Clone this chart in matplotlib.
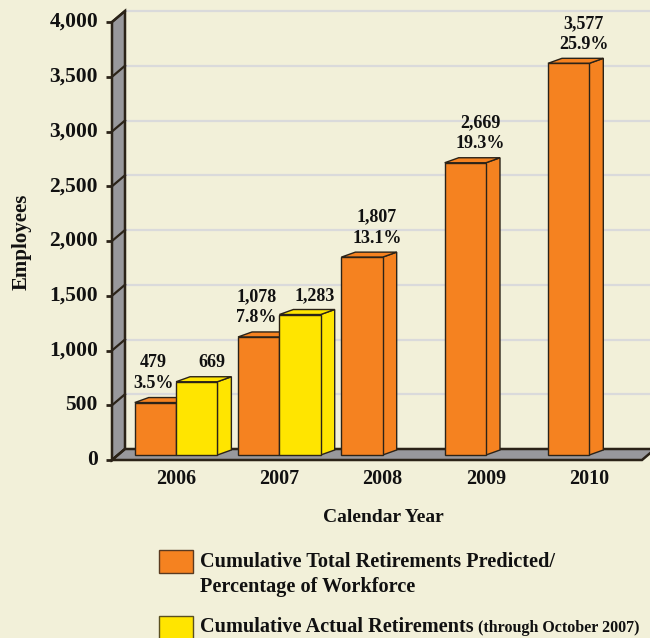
import matplotlib
matplotlib.use("Agg")
import matplotlib.pyplot as plt
from matplotlib.patches import Polygon, Rectangle

# ---------------- data ----------------
years = ["2006", "2007", "2008", "2009", "2010"]
predicted = [479, 1078, 1807, 2669, 3577]
pct_workforce = ["3.5%", "7.8%", "13.1%", "19.3%", "25.9%"]
actual = [669, 1283, None, None, None]
yticks = [0, 500, 1000, 1500, 2000, 2500, 3000, 3500, 4000]
ytick_labels = ["0", "500", "1,000", "1,500", "2,000", "2,500", "3,000", "3,500", "4,000"]
legend_labels = ["Cumulative Total Retirements Predicted/\nPercentage of Workforce",
                 "Cumulative Actual Retirements"]
legend_note = "(through October 2007)"
xlabel = "Calendar Year"
ylabel = "Employees"

# ---------------- style ----------------
BG = "#F2F0D9"
ORANGE = "#F58220"
YELLOW = "#FFE500"
GREY = "#98989C"
EDGE = "#2B2318"
GRID = "#DADADB"
FONT = "Liberation Serif"
TXT = "#111111"

W, H = 650, 638
fig = plt.figure(figsize=(W / 100, H / 100), dpi=100, facecolor=BG)
ax = fig.add_axes([112 / W, (H - 455) / H, 530 / W, 438 / H])
ax.set_xlim(-0.62, 4.51)
ax.set_ylim(0, 4000)
ax.axis("off")
ax.set_facecolor(BG)

# pixel -> data unit conversion
ppx = (ax.get_xlim()[1] - ax.get_xlim()[0]) / (ax.get_position().width * W)
ppy = (ax.get_ylim()[1] - ax.get_ylim()[0]) / (ax.get_position().height * H)

def P(x, y, dx=0.0, dy=0.0):
    return (x + dx * ppx, y + dy * ppy)

xL, xR = ax.get_xlim()
front = (0, -5)      # wall/floor front plane offset (px) from bar plane
back = (13, 6)       # back plane offset
bar_depth = (14, 5)

# gridlines on back plane
for v in yticks[1:]:
    x0, y0 = P(xL, v, *back)
    x1, y1 = P(xR, v, *back)
    ax.plot([x0, x1], [y0, y1], color=GRID, lw=1.6, zorder=1, clip_on=False,
            solid_capstyle="butt")

# left wall
wall = [P(xL, 0, *front), P(xL, 4000, *front), P(xL, 4000, *back), P(xL, 0, *back)]
ax.add_patch(Polygon(wall, closed=True, facecolor=GREY, edgecolor=EDGE, lw=1.8,
                     zorder=2, clip_on=False, joinstyle="miter"))
# floor
floor = [P(xL, 0, *front), P(xR, 0, *front), P(xR, 0, *back), P(xL, 0, *back)]
ax.add_patch(Polygon(floor, closed=True, facecolor=GREY, edgecolor=EDGE, lw=1.8,
                     zorder=2, clip_on=False, joinstyle="miter"))

# diagonal lines on wall at each tick + tick marks + labels
for v, lab in zip(yticks, ytick_labels):
    a = P(xL, v, *front)
    b = P(xL, v, *back)
    ax.plot([a[0], b[0]], [a[1], b[1]], color=EDGE, lw=1.6, zorder=3, clip_on=False)
    t = P(xL, v, front[0] - 6, front[1])
    ax.plot([t[0], a[0]], [t[1], a[1]], color=EDGE, lw=2, zorder=3, clip_on=False,
            solid_capstyle="butt")
    lp = P(xL, v, front[0] - 14, front[1])
    ax.text(lp[0], lp[1], lab, ha="right", va="center", fontsize=15.5,
            fontweight="bold", family=FONT, color=TXT)

# bars
bw = 0.4

def bar3d(x0, v, color):
    x1 = x0 + bw
    ax.add_patch(Rectangle((x0, 0), bw, v, facecolor=color, edgecolor=EDGE, lw=1.0,
                           zorder=5, clip_on=False))
    top = [P(x0, v), P(x1, v), P(x1, v, *bar_depth), P(x0, v, *bar_depth)]
    side = [P(x1, 0), P(x1, v), P(x1, v, *bar_depth), P(x1, 0, *bar_depth)]
    ax.add_patch(Polygon(side, closed=True, facecolor=color, edgecolor=EDGE, lw=1.0,
                         zorder=4, clip_on=False))
    ax.add_patch(Polygon(top, closed=True, facecolor=color, edgecolor=EDGE, lw=1.0,
                         zorder=4, clip_on=False))

def value_label(xc, v, lines, dxpx):
    base = v + (bar_depth[1] + 14) * ppy
    for k, s in enumerate(reversed(lines)):
        ax.text(xc + dxpx * ppx, base + k * 21 * ppy, s, ha="center", va="center",
                fontsize=13, fontweight="bold", family=FONT, color=TXT, zorder=6)

for i, (p, pc, a) in enumerate(zip(predicted, pct_workforce, actual)):
    bar3d(i - bw, p, ORANGE)
    value_label(i - bw / 2, p, [f"{p:,}", pc], -2 if a is not None else 15)
    if a is not None:
        bar3d(i, a, YELLOW)
        value_label(i + bw / 2, a, [f"{a:,}"], 15)

# x tick labels
for i, y in enumerate(years):
    ax.text(i, -23.5 * ppy, y, ha="center", va="center", fontsize=14.5,
            fontweight="bold", family=FONT, color=TXT)

fig.text(383 / W, 1 - 517 / H, xlabel, ha="center", va="center", fontsize=14,
         fontweight="bold", family=FONT, color=TXT)
fig.text(22 / W, 1 - 242 / H, ylabel, ha="center", va="center", rotation=90,
         fontsize=15, fontweight="bold", family=FONT, color=TXT)

# legend
def fpt(x, y):
    return (x / W, 1 - y / H)

fig.patches.append(Rectangle(fpt(159, 573), 34 / W, 23 / H, transform=fig.transFigure,
                             facecolor=ORANGE, edgecolor="#5a3a20", lw=1.0))
fig.patches.append(Rectangle(fpt(159, 639), 34 / W, 23 / H, transform=fig.transFigure,
                             facecolor=YELLOW, edgecolor="#5a5020", lw=1.0))
fig.text(*fpt(200, 574.5), legend_labels[0], ha="left", va="center", fontsize=14.6,
         fontweight="bold", family=FONT, color=TXT, linespacing=1.3)
t1 = fig.text(*fpt(200, 627), legend_labels[1], ha="left", va="center", fontsize=14.6,
              fontweight="bold", family=FONT, color=TXT)
fig.texts.append(plt.Annotation(legend_note, xy=(1, 0), xycoords=t1, xytext=(3, 0.5),
                                textcoords="offset points", ha="left", va="bottom",
                                fontsize=11.5, fontweight="bold", family=FONT,
                                color=TXT))
fig.texts[-1].set_figure(fig)

fig.savefig("out.png", dpi=100, facecolor=BG)
